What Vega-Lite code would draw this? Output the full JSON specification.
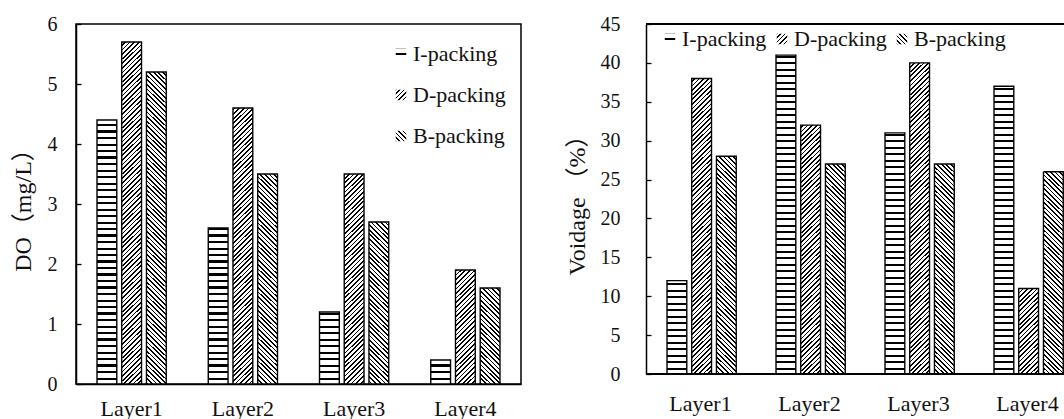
{
  "$schema": "https://vega.github.io/schema/vega-lite/v6.json",
  "background": "white",
  "padding": {"left": 10, "top": 13, "right": 0, "bottom": 0},
  "bounds": "flush",
  "spacing": 125,
  "config": {
    "font": "Liberation Serif",
    "view": {"stroke": "#000", "strokeWidth": 1.5},
    "axis": {"labelFont": "Liberation Serif", "titleFont": "Liberation Serif, Noto Sans CJK SC", "labelColor": "#111", "titleColor": "#111", "domainColor": "#000", "domainWidth": 1.5, "tickColor": "#000", "tickWidth": 1.3, "labelFontSize": 20, "titleFontSize": 24, "titleFontWeight": "normal", "grid": false},
    "axisX": {"labelFontSize": 22},
    "legend": {"labelFont": "Liberation Serif", "labelFontSize": 22, "labelColor": "#111", "symbolType": "square", "symbolSize": 110, "symbolStrokeColor": "#000", "symbolStrokeWidth": 1.2, "symbolOpacity": 1, "labelOffset": 1}
  },
  "params": [{"name": "hatch", "value": [
{"offset":0,"color":"#000"},{"offset":0.00475,"color":"#000"},{"offset":0.00475,"color":"#fff"},{"offset":0.0125,"color":"#fff"},
{"offset":0.0125,"color":"#000"},{"offset":0.01725,"color":"#000"},{"offset":0.01725,"color":"#fff"},{"offset":0.025,"color":"#fff"},
{"offset":0.025,"color":"#000"},{"offset":0.02975,"color":"#000"},{"offset":0.02975,"color":"#fff"},{"offset":0.0375,"color":"#fff"},
{"offset":0.0375,"color":"#000"},{"offset":0.04225,"color":"#000"},{"offset":0.04225,"color":"#fff"},{"offset":0.05,"color":"#fff"},
{"offset":0.05,"color":"#000"},{"offset":0.05475,"color":"#000"},{"offset":0.05475,"color":"#fff"},{"offset":0.0625,"color":"#fff"},
{"offset":0.0625,"color":"#000"},{"offset":0.06725,"color":"#000"},{"offset":0.06725,"color":"#fff"},{"offset":0.075,"color":"#fff"},
{"offset":0.075,"color":"#000"},{"offset":0.07975,"color":"#000"},{"offset":0.07975,"color":"#fff"},{"offset":0.0875,"color":"#fff"},
{"offset":0.0875,"color":"#000"},{"offset":0.09225,"color":"#000"},{"offset":0.09225,"color":"#fff"},{"offset":0.1,"color":"#fff"},
{"offset":0.1,"color":"#000"},{"offset":0.10475,"color":"#000"},{"offset":0.10475,"color":"#fff"},{"offset":0.1125,"color":"#fff"},
{"offset":0.1125,"color":"#000"},{"offset":0.11725,"color":"#000"},{"offset":0.11725,"color":"#fff"},{"offset":0.125,"color":"#fff"},
{"offset":0.125,"color":"#000"},{"offset":0.12975,"color":"#000"},{"offset":0.12975,"color":"#fff"},{"offset":0.1375,"color":"#fff"},
{"offset":0.1375,"color":"#000"},{"offset":0.14225,"color":"#000"},{"offset":0.14225,"color":"#fff"},{"offset":0.15,"color":"#fff"},
{"offset":0.15,"color":"#000"},{"offset":0.15475,"color":"#000"},{"offset":0.15475,"color":"#fff"},{"offset":0.1625,"color":"#fff"},
{"offset":0.1625,"color":"#000"},{"offset":0.16725,"color":"#000"},{"offset":0.16725,"color":"#fff"},{"offset":0.175,"color":"#fff"},
{"offset":0.175,"color":"#000"},{"offset":0.17975,"color":"#000"},{"offset":0.17975,"color":"#fff"},{"offset":0.1875,"color":"#fff"},
{"offset":0.1875,"color":"#000"},{"offset":0.19225,"color":"#000"},{"offset":0.19225,"color":"#fff"},{"offset":0.2,"color":"#fff"},
{"offset":0.2,"color":"#000"},{"offset":0.20475,"color":"#000"},{"offset":0.20475,"color":"#fff"},{"offset":0.2125,"color":"#fff"},
{"offset":0.2125,"color":"#000"},{"offset":0.21725,"color":"#000"},{"offset":0.21725,"color":"#fff"},{"offset":0.225,"color":"#fff"},
{"offset":0.225,"color":"#000"},{"offset":0.22975,"color":"#000"},{"offset":0.22975,"color":"#fff"},{"offset":0.2375,"color":"#fff"},
{"offset":0.2375,"color":"#000"},{"offset":0.24225,"color":"#000"},{"offset":0.24225,"color":"#fff"},{"offset":0.25,"color":"#fff"},
{"offset":0.25,"color":"#000"},{"offset":0.25475,"color":"#000"},{"offset":0.25475,"color":"#fff"},{"offset":0.2625,"color":"#fff"},
{"offset":0.2625,"color":"#000"},{"offset":0.26725,"color":"#000"},{"offset":0.26725,"color":"#fff"},{"offset":0.275,"color":"#fff"},
{"offset":0.275,"color":"#000"},{"offset":0.27975,"color":"#000"},{"offset":0.27975,"color":"#fff"},{"offset":0.2875,"color":"#fff"},
{"offset":0.2875,"color":"#000"},{"offset":0.29225,"color":"#000"},{"offset":0.29225,"color":"#fff"},{"offset":0.3,"color":"#fff"},
{"offset":0.3,"color":"#000"},{"offset":0.30475,"color":"#000"},{"offset":0.30475,"color":"#fff"},{"offset":0.3125,"color":"#fff"},
{"offset":0.3125,"color":"#000"},{"offset":0.31725,"color":"#000"},{"offset":0.31725,"color":"#fff"},{"offset":0.325,"color":"#fff"},
{"offset":0.325,"color":"#000"},{"offset":0.32975,"color":"#000"},{"offset":0.32975,"color":"#fff"},{"offset":0.3375,"color":"#fff"},
{"offset":0.3375,"color":"#000"},{"offset":0.34225,"color":"#000"},{"offset":0.34225,"color":"#fff"},{"offset":0.35,"color":"#fff"},
{"offset":0.35,"color":"#000"},{"offset":0.35475,"color":"#000"},{"offset":0.35475,"color":"#fff"},{"offset":0.3625,"color":"#fff"},
{"offset":0.3625,"color":"#000"},{"offset":0.36725,"color":"#000"},{"offset":0.36725,"color":"#fff"},{"offset":0.375,"color":"#fff"},
{"offset":0.375,"color":"#000"},{"offset":0.37975,"color":"#000"},{"offset":0.37975,"color":"#fff"},{"offset":0.3875,"color":"#fff"},
{"offset":0.3875,"color":"#000"},{"offset":0.39225,"color":"#000"},{"offset":0.39225,"color":"#fff"},{"offset":0.4,"color":"#fff"},
{"offset":0.4,"color":"#000"},{"offset":0.40475,"color":"#000"},{"offset":0.40475,"color":"#fff"},{"offset":0.4125,"color":"#fff"},
{"offset":0.4125,"color":"#000"},{"offset":0.41725,"color":"#000"},{"offset":0.41725,"color":"#fff"},{"offset":0.425,"color":"#fff"},
{"offset":0.425,"color":"#000"},{"offset":0.42975,"color":"#000"},{"offset":0.42975,"color":"#fff"},{"offset":0.4375,"color":"#fff"},
{"offset":0.4375,"color":"#000"},{"offset":0.44225,"color":"#000"},{"offset":0.44225,"color":"#fff"},{"offset":0.45,"color":"#fff"},
{"offset":0.45,"color":"#000"},{"offset":0.45475,"color":"#000"},{"offset":0.45475,"color":"#fff"},{"offset":0.4625,"color":"#fff"},
{"offset":0.4625,"color":"#000"},{"offset":0.46725,"color":"#000"},{"offset":0.46725,"color":"#fff"},{"offset":0.475,"color":"#fff"},
{"offset":0.475,"color":"#000"},{"offset":0.47975,"color":"#000"},{"offset":0.47975,"color":"#fff"},{"offset":0.4875,"color":"#fff"},
{"offset":0.4875,"color":"#000"},{"offset":0.49225,"color":"#000"},{"offset":0.49225,"color":"#fff"},{"offset":0.5,"color":"#fff"},
{"offset":0.5,"color":"#000"},{"offset":0.50475,"color":"#000"},{"offset":0.50475,"color":"#fff"},{"offset":0.5125,"color":"#fff"},
{"offset":0.5125,"color":"#000"},{"offset":0.51725,"color":"#000"},{"offset":0.51725,"color":"#fff"},{"offset":0.525,"color":"#fff"},
{"offset":0.525,"color":"#000"},{"offset":0.52975,"color":"#000"},{"offset":0.52975,"color":"#fff"},{"offset":0.5375,"color":"#fff"},
{"offset":0.5375,"color":"#000"},{"offset":0.54225,"color":"#000"},{"offset":0.54225,"color":"#fff"},{"offset":0.55,"color":"#fff"},
{"offset":0.55,"color":"#000"},{"offset":0.55475,"color":"#000"},{"offset":0.55475,"color":"#fff"},{"offset":0.5625,"color":"#fff"},
{"offset":0.5625,"color":"#000"},{"offset":0.56725,"color":"#000"},{"offset":0.56725,"color":"#fff"},{"offset":0.575,"color":"#fff"},
{"offset":0.575,"color":"#000"},{"offset":0.57975,"color":"#000"},{"offset":0.57975,"color":"#fff"},{"offset":0.5875,"color":"#fff"},
{"offset":0.5875,"color":"#000"},{"offset":0.59225,"color":"#000"},{"offset":0.59225,"color":"#fff"},{"offset":0.6,"color":"#fff"},
{"offset":0.6,"color":"#000"},{"offset":0.60475,"color":"#000"},{"offset":0.60475,"color":"#fff"},{"offset":0.6125,"color":"#fff"},
{"offset":0.6125,"color":"#000"},{"offset":0.61725,"color":"#000"},{"offset":0.61725,"color":"#fff"},{"offset":0.625,"color":"#fff"},
{"offset":0.625,"color":"#000"},{"offset":0.62975,"color":"#000"},{"offset":0.62975,"color":"#fff"},{"offset":0.6375,"color":"#fff"},
{"offset":0.6375,"color":"#000"},{"offset":0.64225,"color":"#000"},{"offset":0.64225,"color":"#fff"},{"offset":0.65,"color":"#fff"},
{"offset":0.65,"color":"#000"},{"offset":0.65475,"color":"#000"},{"offset":0.65475,"color":"#fff"},{"offset":0.6625,"color":"#fff"},
{"offset":0.6625,"color":"#000"},{"offset":0.66725,"color":"#000"},{"offset":0.66725,"color":"#fff"},{"offset":0.675,"color":"#fff"},
{"offset":0.675,"color":"#000"},{"offset":0.67975,"color":"#000"},{"offset":0.67975,"color":"#fff"},{"offset":0.6875,"color":"#fff"},
{"offset":0.6875,"color":"#000"},{"offset":0.69225,"color":"#000"},{"offset":0.69225,"color":"#fff"},{"offset":0.7,"color":"#fff"},
{"offset":0.7,"color":"#000"},{"offset":0.70475,"color":"#000"},{"offset":0.70475,"color":"#fff"},{"offset":0.7125,"color":"#fff"},
{"offset":0.7125,"color":"#000"},{"offset":0.71725,"color":"#000"},{"offset":0.71725,"color":"#fff"},{"offset":0.725,"color":"#fff"},
{"offset":0.725,"color":"#000"},{"offset":0.72975,"color":"#000"},{"offset":0.72975,"color":"#fff"},{"offset":0.7375,"color":"#fff"},
{"offset":0.7375,"color":"#000"},{"offset":0.74225,"color":"#000"},{"offset":0.74225,"color":"#fff"},{"offset":0.75,"color":"#fff"},
{"offset":0.75,"color":"#000"},{"offset":0.75475,"color":"#000"},{"offset":0.75475,"color":"#fff"},{"offset":0.7625,"color":"#fff"},
{"offset":0.7625,"color":"#000"},{"offset":0.76725,"color":"#000"},{"offset":0.76725,"color":"#fff"},{"offset":0.775,"color":"#fff"},
{"offset":0.775,"color":"#000"},{"offset":0.77975,"color":"#000"},{"offset":0.77975,"color":"#fff"},{"offset":0.7875,"color":"#fff"},
{"offset":0.7875,"color":"#000"},{"offset":0.79225,"color":"#000"},{"offset":0.79225,"color":"#fff"},{"offset":0.8,"color":"#fff"},
{"offset":0.8,"color":"#000"},{"offset":0.80475,"color":"#000"},{"offset":0.80475,"color":"#fff"},{"offset":0.8125,"color":"#fff"},
{"offset":0.8125,"color":"#000"},{"offset":0.81725,"color":"#000"},{"offset":0.81725,"color":"#fff"},{"offset":0.825,"color":"#fff"},
{"offset":0.825,"color":"#000"},{"offset":0.82975,"color":"#000"},{"offset":0.82975,"color":"#fff"},{"offset":0.8375,"color":"#fff"},
{"offset":0.8375,"color":"#000"},{"offset":0.84225,"color":"#000"},{"offset":0.84225,"color":"#fff"},{"offset":0.85,"color":"#fff"},
{"offset":0.85,"color":"#000"},{"offset":0.85475,"color":"#000"},{"offset":0.85475,"color":"#fff"},{"offset":0.8625,"color":"#fff"},
{"offset":0.8625,"color":"#000"},{"offset":0.86725,"color":"#000"},{"offset":0.86725,"color":"#fff"},{"offset":0.875,"color":"#fff"},
{"offset":0.875,"color":"#000"},{"offset":0.87975,"color":"#000"},{"offset":0.87975,"color":"#fff"},{"offset":0.8875,"color":"#fff"},
{"offset":0.8875,"color":"#000"},{"offset":0.89225,"color":"#000"},{"offset":0.89225,"color":"#fff"},{"offset":0.9,"color":"#fff"},
{"offset":0.9,"color":"#000"},{"offset":0.90475,"color":"#000"},{"offset":0.90475,"color":"#fff"},{"offset":0.9125,"color":"#fff"},
{"offset":0.9125,"color":"#000"},{"offset":0.91725,"color":"#000"},{"offset":0.91725,"color":"#fff"},{"offset":0.925,"color":"#fff"},
{"offset":0.925,"color":"#000"},{"offset":0.92975,"color":"#000"},{"offset":0.92975,"color":"#fff"},{"offset":0.9375,"color":"#fff"},
{"offset":0.9375,"color":"#000"},{"offset":0.94225,"color":"#000"},{"offset":0.94225,"color":"#fff"},{"offset":0.95,"color":"#fff"},
{"offset":0.95,"color":"#000"},{"offset":0.95475,"color":"#000"},{"offset":0.95475,"color":"#fff"},{"offset":0.9625,"color":"#fff"},
{"offset":0.9625,"color":"#000"},{"offset":0.96725,"color":"#000"},{"offset":0.96725,"color":"#fff"},{"offset":0.975,"color":"#fff"},
{"offset":0.975,"color":"#000"},{"offset":0.97975,"color":"#000"},{"offset":0.97975,"color":"#fff"},{"offset":0.9875,"color":"#fff"},
{"offset":0.9875,"color":"#000"},{"offset":0.99225,"color":"#000"},{"offset":0.99225,"color":"#fff"},{"offset":1,"color":"#fff"}
  ]}],
  "datasets": {
    "do": [
      {"layer": "Layer1", "packing": "I-packing", "value": 4.4},
      {"layer": "Layer1", "packing": "D-packing", "value": 5.7},
      {"layer": "Layer1", "packing": "B-packing", "value": 5.2},
      {"layer": "Layer2", "packing": "I-packing", "value": 2.6},
      {"layer": "Layer2", "packing": "D-packing", "value": 4.6},
      {"layer": "Layer2", "packing": "B-packing", "value": 3.5},
      {"layer": "Layer3", "packing": "I-packing", "value": 1.2},
      {"layer": "Layer3", "packing": "D-packing", "value": 3.5},
      {"layer": "Layer3", "packing": "B-packing", "value": 2.7},
      {"layer": "Layer4", "packing": "I-packing", "value": 0.4},
      {"layer": "Layer4", "packing": "D-packing", "value": 1.9},
      {"layer": "Layer4", "packing": "B-packing", "value": 1.6}
    ],
    "vd": [
      {"layer": "Layer1", "packing": "I-packing", "value": 12},
      {"layer": "Layer1", "packing": "D-packing", "value": 38},
      {"layer": "Layer1", "packing": "B-packing", "value": 28},
      {"layer": "Layer2", "packing": "I-packing", "value": 41},
      {"layer": "Layer2", "packing": "D-packing", "value": 32},
      {"layer": "Layer2", "packing": "B-packing", "value": 27},
      {"layer": "Layer3", "packing": "I-packing", "value": 31},
      {"layer": "Layer3", "packing": "D-packing", "value": 40},
      {"layer": "Layer3", "packing": "B-packing", "value": 27},
      {"layer": "Layer4", "packing": "I-packing", "value": 37},
      {"layer": "Layer4", "packing": "D-packing", "value": 11},
      {"layer": "Layer4", "packing": "B-packing", "value": 26}
    ]
  },
  "resolve": {"scale": {"strokeDash": "independent"}, "legend": {"strokeDash": "independent"}},
  "hconcat": [
    {
      "data": {"name": "do"},
      "width": 445,
      "height": 360,
      "mark": {
        "type": "bar",
        "stroke": "#000",
        "strokeWidth": 1.4,
        "fill": {"expr": "datum.packing ? (datum.packing == 'I-packing' ? {gradient: 'linear', x1: 0, y1: 1 - 520 / (datum.value * 60), x2: 0, y2: 1, stops: hatch} : datum.packing == 'D-packing' ? {gradient: 'linear', x1: 1 - 7176 / (380.25 + pow(datum.value * 60, 2)), y1: 1 - datum.value * 22080 / (380.25 + pow(datum.value * 60, 2)), x2: 1, y2: 1, stops: hatch} : {gradient: 'linear', x1: 1 - 7176 / (380.25 + pow(datum.value * 60, 2)), y1: datum.value * 22080 / (380.25 + pow(datum.value * 60, 2)), x2: 1, y2: 0, stops: hatch}) : (datum.value == 'I-packing' ? {gradient: 'linear', x1: 0, y1: -46.27, x2: 0, y2: 1, stops: hatch} : datum.value == 'D-packing' ? {gradient: 'linear', x1: -15.727, y1: -15.727, x2: 1, y2: 1, stops: hatch} : {gradient: 'linear', x1: -15.727, y1: 16.727, x2: 1, y2: 0, stops: hatch})"}
      },
      "encoding": {
        "x": {"field": "layer", "type": "nominal", "scale": {"paddingInner": 0, "paddingOuter": 0}, "axis": {"title": null, "labelAngle": 0, "ticks": false, "tickSize": 0, "labelPadding": 14}},
        "xOffset": {"field": "packing", "type": "nominal", "sort": ["I-packing", "D-packing", "B-packing"], "scale": {"paddingInner": 0.2, "paddingOuter": 0.85}},
        "y": {"field": "value", "type": "quantitative", "scale": {"domain": [0, 6], "nice": false}, "axis": {"title": "DO（mg/L）", "values": [0, 1, 2, 3, 4, 5, 6], "tickSize": -5, "labelPadding": 24, "titlePadding": 12}},
        "strokeDash": {
          "field": "packing", "type": "nominal", "sort": ["I-packing", "D-packing", "B-packing"],
          "scale": {"range": [[1, 0], [1, 0], [1, 0]]},
          "legend": {"title": null, "orient": "none", "legendX": 314, "legendY": 19, "direction": "vertical", "rowPadding": 19, "symbolType": "square", "symbolStrokeColor": "#000", "symbolStrokeWidth": 1.2, "labelFont": "Liberation Serif", "labelFontSize": 22}
        }
      }
    },
    {
      "data": {"name": "vd"},
      "width": 419,
      "height": 350,
      "view": {"stroke": null},
      "layer": [
        {
          "mark": {
            "type": "bar",
            "stroke": "#000",
            "strokeWidth": 1.4,
            "fill": {"expr": "datum.packing ? (datum.packing == 'I-packing' ? {gradient: 'linear', x1: 0, y1: 1 - 520 / (datum.value * 7.7778), x2: 0, y2: 1, stops: hatch} : datum.packing == 'D-packing' ? {gradient: 'linear', x1: 1 - 7176 / (380.25 + pow(datum.value * 7.7778, 2)), y1: 1 - datum.value * 2862.2 / (380.25 + pow(datum.value * 7.7778, 2)), x2: 1, y2: 1, stops: hatch} : {gradient: 'linear', x1: 1 - 7176 / (380.25 + pow(datum.value * 7.7778, 2)), y1: datum.value * 2862.2 / (380.25 + pow(datum.value * 7.7778, 2)), x2: 1, y2: 0, stops: hatch}) : (datum.value == 'I-packing' ? {gradient: 'linear', x1: 0, y1: -46.27, x2: 0, y2: 1, stops: hatch} : datum.value == 'D-packing' ? {gradient: 'linear', x1: -15.727, y1: -15.727, x2: 1, y2: 1, stops: hatch} : {gradient: 'linear', x1: -15.727, y1: 16.727, x2: 1, y2: 0, stops: hatch})"}
          },
          "encoding": {
            "x": {"field": "layer", "type": "nominal", "scale": {"paddingInner": 0, "paddingOuter": 0, "range": [0, 436]}, "axis": {"title": null, "labelAngle": 0, "ticks": false, "tickSize": 0, "domain": false, "labelPadding": 19}},
            "xOffset": {"field": "packing", "type": "nominal", "sort": ["I-packing", "D-packing", "B-packing"], "scale": {"paddingInner": 0.2, "paddingOuter": 0.85}},
            "y": {"field": "value", "type": "quantitative", "scale": {"domain": [0, 45], "nice": false}, "axis": {"title": "Voidage （%）", "values": [0, 5, 10, 15, 20, 25, 30, 35, 40, 45], "tickSize": -5, "labelPadding": 31, "titlePadding": 11}},
            "strokeDash": {
              "field": "packing", "type": "nominal", "sort": ["I-packing", "D-packing", "B-packing"],
              "scale": {"range": [[1, 0], [1, 0], [1, 0]]},
              "legend": {"title": null, "orient": "none", "legendX": 13, "legendY": 4, "direction": "horizontal", "columnPadding": 4, "symbolType": "square", "symbolStrokeColor": "#000", "symbolStrokeWidth": 1.2, "labelFont": "Liberation Serif", "labelFontSize": 22}
            }
          }
        },
        {
          "mark": {"type": "rule", "stroke": "#000", "strokeWidth": 1.5},
          "encoding": {"y": {"datum": 45, "type": "quantitative", "axis": {"title": "Voidage （%）", "values": [0, 5, 10, 15, 20, 25, 30, 35, 40, 45], "tickSize": -5, "labelPadding": 31, "titlePadding": 11}}}
        },
        {
          "mark": {"type": "rule", "stroke": "#000", "strokeWidth": 1.5},
          "encoding": {"y": {"datum": 0, "type": "quantitative", "axis": {"title": "Voidage （%）", "values": [0, 5, 10, 15, 20, 25, 30, 35, 40, 45], "tickSize": -5, "labelPadding": 31, "titlePadding": 11}}}
        }
      ]
    }
  ]
}
